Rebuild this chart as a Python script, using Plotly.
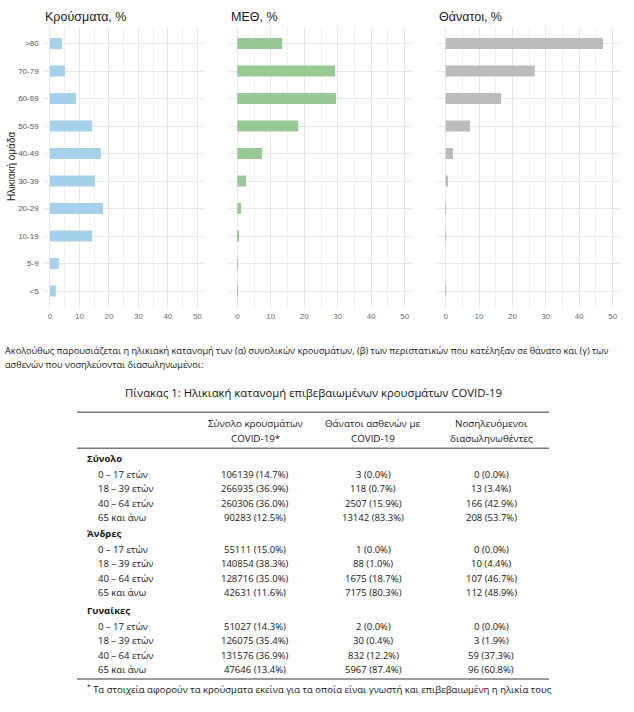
import plotly.graph_objects as go

W, H = 634, 712

# ---------------- chart data ----------------
age_groups = ["<5", "5-9", "10-19", "20-29", "30-39", "40-49", "50-59", "60-69", "70-79", ">80"]
cases_pct = [2.0, 3.0, 14.3, 18.0, 15.3, 17.3, 14.3, 8.8, 5.1, 4.1]
icu_pct = [0.1, 0.1, 0.3, 1.1, 2.6, 7.4, 18.2, 29.5, 29.2, 13.4]
deaths_pct = [0.1, 0.0, 0.1, 0.1, 0.7, 2.2, 7.3, 16.6, 26.7, 47.1]
panel_titles = ["Κρούσματα, %", "ΜΕΘ, %", "Θάνατοι, %"]
x_ticks = [0, 10, 20, 30, 40, 50]

# ---------------- table data ----------------
paragraph_lines = [
    "Ακολούθως παρουσιάζεται η ηλικιακή κατανομή των (α) συνολικών κρουσμάτων, (β) των περιστατικών που κατέληξαν σε θάνατο και (γ) των",
    "ασθενών που νοσηλεύονται διασωληνωμένοι:",
]
table_title = "Πίνακας 1: Ηλικιακή κατανομή επιβεβαιωμένων κρουσμάτων COVID-19"
col_header_l1 = ["Σύνολο κρουσμάτων", "Θάνατοι ασθενών με", "Νοσηλευόμενοι"]
col_header_l2 = ["COVID-19*", "COVID-19", "διασωληνωθέντες"]
groups = ["Σύνολο", "Άνδρες", "Γυναίκες"]
age_bands = ["0 – 17 ετών", "18 – 39 ετών", "40 – 64 ετών", "65 και άνω"]

cases_n = [[106139, 266935, 260306, 90283], [55111, 140854, 128716, 42631], [51027, 126075, 131576, 47646]]
cases_p = [[14.7, 36.9, 36.0, 12.5], [15.0, 38.3, 35.0, 11.6], [14.3, 35.4, 36.9, 13.4]]
deaths_n = [[3, 118, 2507, 13142], [1, 88, 1675, 7175], [2, 30, 832, 5967]]
deaths_p = [[0.0, 0.7, 15.9, 83.3], [0.0, 1.0, 18.7, 80.3], [0.0, 0.4, 12.2, 87.4]]
intub_n = [[0, 13, 166, 208], [0, 10, 107, 112], [0, 3, 59, 96]]
intub_p = [[0.0, 3.4, 42.9, 53.7], [0.0, 4.4, 46.7, 48.9], [0.0, 1.9, 37.3, 60.8]]
footnote = "Τα στοιχεία αφορούν τα κρούσματα εκείνα για τα οποία είναι γνωστή και επιβεβαιωμένη η ηλικία τους"


def X(px):
    return px / W


def Y(py):
    return 1 - py / H


fig = go.Figure()

series = [cases_pct, icu_pct, deaths_pct]
colors = ["#a6d1ea", "#97c995", "#bcbcbc"]
domains_px = [(42.6, 204.7), (229.0, 413.0), (437.3, 621.0)]
plot_top, plot_bot = 27.0, 307.5

for i, (vals, col) in enumerate(zip(series, colors)):
    sfx = "" if i == 0 else str(i + 1)
    fig.add_trace(go.Bar(
        x=vals, y=age_groups, orientation="h", marker=dict(color=col, line=dict(width=0)),
        width=0.4, xaxis="x" + sfx, yaxis="y" + sfx, showlegend=False, hoverinfo="x+y",
    ))
    d0, d1 = domains_px[i]
    fig.layout["xaxis" + sfx] = dict(
        domain=[X(d0), X(d1)], anchor="y" + sfx, range=[-2.5, 52.5],
        tickvals=x_ticks, ticks="", showline=False, zeroline=False,
        showgrid=True, gridcolor="#e6e6e6", gridwidth=1,
        minor=dict(tick0=0, dtick=5, showgrid=True, gridcolor="#f1f1f1", gridwidth=1),
        tickfont=dict(family="Liberation Sans, Arial", size=8, color="#6b6b6b"),
        ticklabelstandoff=2, fixedrange=True,
    )
    fig.layout["yaxis" + sfx] = dict(
        domain=[Y(plot_bot), Y(plot_top)], anchor="x" + sfx, type="category",
        categoryorder="array", categoryarray=age_groups, range=[-0.6, 9.6],
        ticks="", showline=False, zeroline=False,
        showgrid=True, gridcolor="#e8e8e8", gridwidth=1,
        showticklabels=(i == 0),
        tickfont=dict(family="Liberation Sans, Arial", size=8, color="#555555"),
        ticklabelstandoff=3, fixedrange=True,
    )
    fig.add_annotation(
        x=X(d0), y=Y(17), xref="paper", yref="paper", xanchor="left", yanchor="middle",
        text=panel_titles[i], showarrow=False,
        font=dict(family="Liberation Sans, Arial", size=12.5, color="#1a1a1a"),
    )

fig.add_annotation(
    x=X(11), y=Y(167), xref="paper", yref="paper", xanchor="center", yanchor="middle",
    text="Ηλικιακή ομάδα", textangle=-90, showarrow=False,
    font=dict(family="Liberation Sans, Arial", size=10, color="#222222"),
)

# ---------------- text + table ----------------
body_font = "Open Sans, Noto Sans, sans-serif"
txt = "#151515"

for line, py in zip(paragraph_lines, [351, 364.5]):
    fig.add_annotation(x=X(3), y=Y(py), xref="paper", yref="paper", xanchor="left", yanchor="middle",
                       text=line, showarrow=False, font=dict(family=body_font, size=9.2, color=txt))

fig.add_annotation(x=X(313), y=Y(392.5), xref="paper", yref="paper", xanchor="center", yanchor="middle",
                   text=table_title, showarrow=False, font=dict(family=body_font, size=11.3, color=txt))

rule_x0, rule_x1 = 77, 549
for py in [412.3, 448.3, 679.0]:
    fig.add_shape(type="line", xref="paper", yref="paper", x0=X(rule_x0), x1=X(rule_x1), y0=Y(py), y1=Y(py),
                  line=dict(color="#7a7a7a", width=1.6))

col_centers = [255, 373, 491]
for cx, h1, h2 in zip(col_centers, col_header_l1, col_header_l2):
    fig.add_annotation(x=X(cx), y=Y(423.5), xref="paper", yref="paper", xanchor="center", yanchor="middle",
                       text=h1, showarrow=False, font=dict(family=body_font, size=9.8, color=txt))
    fig.add_annotation(x=X(cx), y=Y(438.7), xref="paper", yref="paper", xanchor="center", yanchor="middle",
                       text=h2, showarrow=False, font=dict(family=body_font, size=9.8, color=txt))

group_y = [458.5, 533.5, 610.5]
for g, gname in enumerate(groups):
    gy = group_y[g]
    fig.add_annotation(x=X(85), y=Y(gy), xref="paper", yref="paper", xanchor="left", yanchor="middle",
                       text="<b>" + gname + "</b>", showarrow=False,
                       font=dict(family=body_font, size=9.5, color=txt))
    for r, band in enumerate(age_bands):
        ry = gy + 15.5 + 14.5 * r
        fig.add_annotation(x=X(96), y=Y(ry), xref="paper", yref="paper", xanchor="left", yanchor="middle",
                           text=band, showarrow=False, font=dict(family=body_font, size=9.5, color=txt))
        cells = [
            f"{cases_n[g][r]} ({cases_p[g][r]:.1f}%)",
            f"{deaths_n[g][r]} ({deaths_p[g][r]:.1f}%)",
            f"{intub_n[g][r]} ({intub_p[g][r]:.1f}%)",
        ]
        for cx, c in zip(col_centers, cells):
            fig.add_annotation(x=X(cx), y=Y(ry), xref="paper", yref="paper", xanchor="center", yanchor="middle",
                               text=c, showarrow=False, font=dict(family=body_font, size=9.5, color=txt))

fig.add_annotation(x=X(85), y=Y(688.5), xref="paper", yref="paper", xanchor="left", yanchor="middle",
                   text="<sup>*</sup> " + footnote, showarrow=False,
                   font=dict(family=body_font, size=9.5, color=txt))

fig.update_layout(
    width=W, height=H, margin=dict(l=0, r=0, t=0, b=0),
    paper_bgcolor="white", plot_bgcolor="white", bargap=0.6,
)

fig.write_html("out.html", config={"displayModeBar": False},
               post_script="document.body.style.margin='0px';")
